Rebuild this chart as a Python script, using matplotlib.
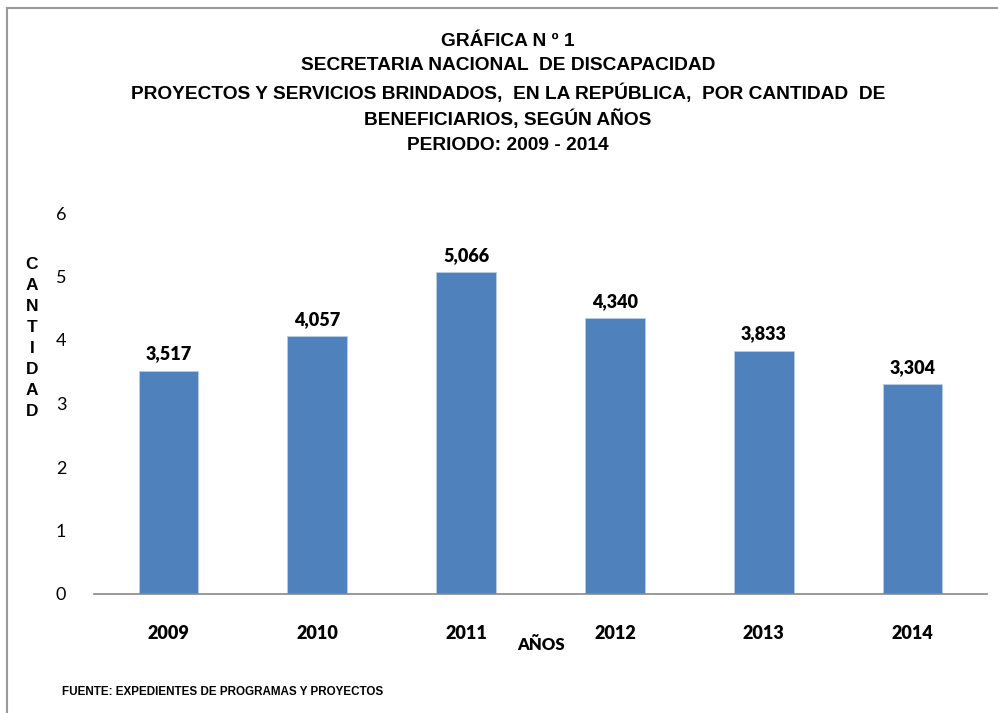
import matplotlib
matplotlib.use("Agg")
import matplotlib.pyplot as plt
from matplotlib.lines import Line2D

years = ["2009", "2010", "2011", "2012", "2013", "2014"]
values = [3.517, 4.057, 5.066, 4.340, 3.833, 3.304]
value_labels = ["3,517", "4,057", "5,066", "4,340", "3,833", "3,304"]
yticks = [0, 1, 2, 3, 4, 5, 6]

title_lines = ["GRÁFICA N º 1",
               "SECRETARIA NACIONAL  DE DISCAPACIDAD",
               "PROYECTOS Y SERVICIOS BRINDADOS,  EN LA REPÚBLICA,  POR CANTIDAD  DE",
               "BENEFICIARIOS, SEGÚN AÑOS",
               "PERIODO: 2009 - 2014"]

W, H = 998, 713
fig = plt.figure(figsize=(W / 100, H / 100), dpi=100)
ax = fig.add_axes([94 / W, 1 - 594 / H, (987 - 94) / W, (594 - 213) / H])

x = list(range(len(years)))
ax.bar(x, values, width=0.40, color="#4F81BD", edgecolor="#B9CDE5", linewidth=0.6)
ax.set_xlim(-0.5, len(years) - 0.5)
ax.set_ylim(0, 6)
ax.set_yticks(yticks)
ax.set_yticklabels([str(t) for t in yticks], fontfamily="Lato", fontsize=13)
ax.set_xticks(x)
ax.set_xticklabels(years, fontfamily="Lato", fontweight="heavy", fontsize=13)
ax.tick_params(axis="both", length=0)
ax.tick_params(axis="y", pad=20)
ax.tick_params(axis="x", pad=22)
for s in ["top", "right", "left"]:
    ax.spines[s].set_visible(False)
ax.spines["bottom"].set_color("#888888")
ax.spines["bottom"].set_linewidth(1.2)

for xi, v, lab in zip(x, values, value_labels):
    ax.annotate(lab, (xi, v), xytext=(0, 6), textcoords="offset points",
                ha="center", va="bottom", fontfamily="Lato", fontweight="heavy",
                fontsize=13)

# titles
ys = [42, 66, 93, 119, 146]
for line, yy in zip(title_lines, ys):
    fig.text(508 / W, 1 - yy / H, line, ha="center", va="center",
             fontfamily="Liberation Sans", fontweight="bold", fontsize=13.8)

# y label (stacked letters)
fig.text(32 / W, 1 - 338 / H, "\n".join("CANTIDAD"), ha="center", va="center",
         fontfamily="Liberation Sans", fontweight="bold", fontsize=12.5,
         linespacing=1.5)

# x label
fig.text(541 / W, 1 - 645 / H, "AÑOS", ha="center", va="center",
         fontfamily="Lato", fontweight="heavy", fontsize=12)

# source
fig.text(62 / W, 1 - 692 / H, "FUENTE: EXPEDIENTES DE PROGRAMAS Y PROYECTOS",
         ha="left", va="center", fontfamily="Liberation Sans", fontweight="bold",
         fontsize=8.4)

# frame lines (left and top)
fig.add_artist(Line2D([7 / W, 7 / W], [0, 1 - 8 / H], transform=fig.transFigure,
                      color="#999999", linewidth=1.5))
fig.add_artist(Line2D([7 / W, 1], [1 - 8 / H, 1 - 8 / H], transform=fig.transFigure,
                      color="#999999", linewidth=1.5))

fig.savefig("out.png", dpi=100)
